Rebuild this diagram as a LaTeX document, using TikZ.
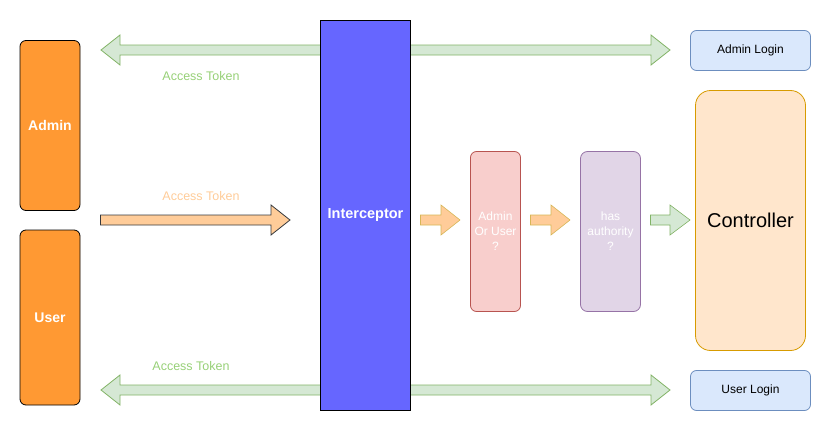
\documentclass[tikz,border=0pt]{standalone}
\usepackage{fontspec}
\setmainfont{Liberation Sans}
\definecolor{boxorange}{HTML}{FF9933}
\definecolor{icpt}{HTML}{6666FF}
\definecolor{gfill}{HTML}{D5E8D4}
\definecolor{gline}{HTML}{82B366}
\definecolor{gtext}{HTML}{97D077}
\definecolor{ofill}{HTML}{FFCC99}
\definecolor{oline}{HTML}{36393D}
\definecolor{yline}{HTML}{D6B656}
\definecolor{pfill}{HTML}{F8CECC}
\definecolor{pline}{HTML}{B85450}
\definecolor{vfill}{HTML}{E1D5E7}
\definecolor{vline}{HTML}{9673A6}
\definecolor{bfill}{HTML}{DAE8FC}
\definecolor{bline}{HTML}{6C8EBF}
\definecolor{cfill}{HTML}{FFE6CC}
\definecolor{cline}{HTML}{D79B00}
\newcommand\fs[2]{\fontsize{#1}{#2}\selectfont}
% right-pointing block arrow: x0, tip x, y, head start x
\newcommand\rblock[4]{(#1,#3-5) -- (#4,#3-5) -- (#4,#3-15) -- (#2,#3) -- (#4,#3+15) -- (#4,#3+5) -- (#1,#3+5) -- cycle}
% double block arrow: left tip, right tip, y
\newcommand\dblock[3]{(#1,#3) -- (#1+19,#3-15) -- (#1+19,#3-5) -- (#2-19,#3-5) -- (#2-19,#3-15) -- (#2,#3) -- (#2-19,#3+15) -- (#2-19,#3+5) -- (#1+19,#3+5) -- (#1+19,#3+15) -- cycle}
\begin{document}
\begin{tikzpicture}[x=1pt,y=-1pt,
  box/.style={rectangle,draw,line width=0.8pt,inner sep=0pt,align=center},
  person/.style={box,fill=boxorange,draw=black,rounded corners=6pt,minimum width=60pt,text=white,font=\fs{14}{16}\bfseries},
  greenarrow/.style={fill=gfill,draw=gline,line width=0.8pt,line join=miter},
  orangearrow/.style={fill=ofill,draw=oline,line width=0.8pt},
  smallarrow/.style={fill=ofill,draw=yline,line width=0.6pt},
  smallgreen/.style={fill=gfill,draw=gline,line width=0.6pt},
  lbl/.style={font=\fs{12.5}{14},inner sep=0pt},
  login/.style={box,fill=bfill,draw=bline,rounded corners=6pt,minimum width=120pt,minimum height=40pt,font=\fs{12}{14}}]
\useasboundingbox (0,0) rectangle (831,431);

% green double arrows (behind interceptor)
\filldraw[greenarrow] \dblock{101}{670}{50};
\filldraw[greenarrow] \dblock{101}{670}{390};

\node[person,minimum height=170pt] (admin) at (50,125.5) {Admin};
\node[person,minimum height=175pt] (user) at (50,317.5) {User};

\node[box,fill=icpt,draw=black,line width=1.2pt,minimum width=90pt,minimum height=390pt,text=white,font=\fs{14.5}{16}\bfseries] (icp) at (365.5,215.5) {\raisebox{-2pt}{Interceptor}};

\node[box,fill=pfill,draw=pline,rounded corners=6pt,minimum width=50pt,minimum height=160pt,text=white,font=\fs{12}{15}] (aou) at (495.5,231.5) {Admin\\Or User\\?};
\node[box,fill=vfill,draw=vline,rounded corners=7pt,minimum width=60pt,minimum height=160pt,text=white,font=\fs{12}{15}] (auth) at (610.5,231.5) {has\\authority\\?};

\node[login] (alogin) at (750.5,50.5) {Admin Login};
\node[box,fill=cfill,draw=cline,rounded corners=15pt,minimum width=110pt,minimum height=260pt,font=\fs{20}{22}] (ctrl) at (750.5,220.5) {Controller};
\node[login] (ulogin) at (750.5,390.5) {User Login};

% big orange arrow
\filldraw[orangearrow] \rblock{100.5}{290}{220}{271};
% small arrows
\filldraw[smallarrow] \rblock{420.5}{460}{220}{441};
\filldraw[smallarrow] \rblock{530.5}{570}{220}{551};
\filldraw[smallgreen] \rblock{650.5}{690}{220}{670};

% labels
\node[lbl,text=gtext] (t1) at (201,76) {Access Token};
\node[lbl,text=ofill] (t2) at (201,196) {Access Token};
\node[lbl,text=gtext] (t3) at (191,366) {Access Token};
\end{tikzpicture}
\end{document}
